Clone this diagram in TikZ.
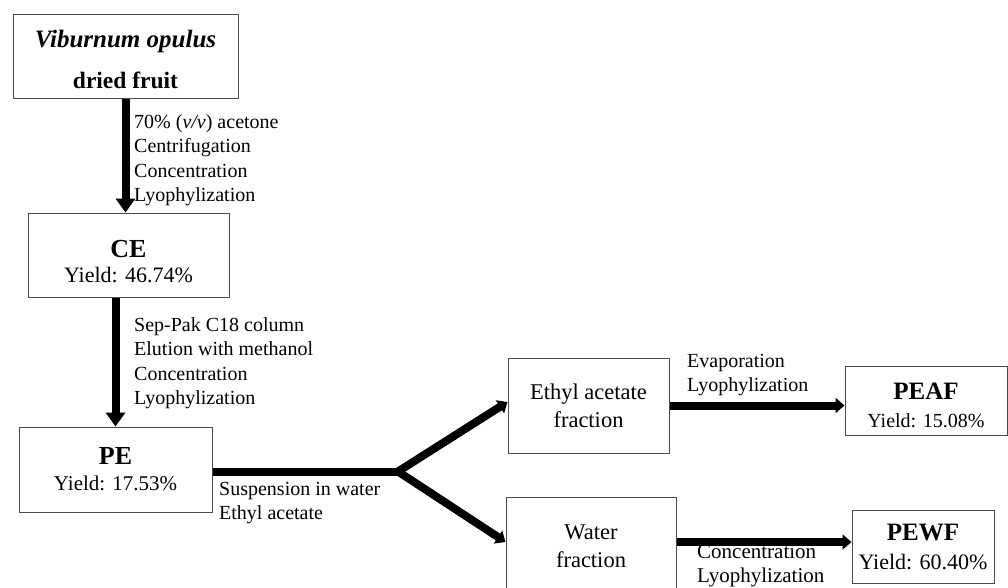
\documentclass[tikz,border=0pt]{standalone}
\usepackage{fontspec}
\setmainfont{Liberation Serif}
\usetikzlibrary{arrows.meta}
\begin{document}
\begin{tikzpicture}[x=1pt, y=-1pt, line join=miter,
	box/.style={draw=black!70, line width=1pt, align=center, inner sep=0pt, font=\fontsize{22.5}{28}\selectfont},
	note/.style={align=left, inner sep=0pt, font=\fontsize{20}{24.5}\selectfont},
	down/.style={line width=8pt, -{Triangle[width=19pt,length=14pt]}},
	flow/.style={line width=8pt, -{Triangle[width=15pt,length=9pt]}}]
	\useasboundingbox (0,0) rectangle (1008,588);
	% boxes
	\node[box, minimum width=225, minimum height=84, font=\bfseries\fontsize{25}{41}\selectfont] (fruit) at (125.5,57) {\rule{0pt}{22pt}\textit{Viburnum opulus}\\{\fontsize{23.5}{41}\selectfont dried fruit}};
	\node[box, minimum width=201, minimum height=84, font=\fontsize{22}{25}\selectfont] (CE) at (128.5,255) {{\bfseries\fontsize{26}{25}\selectfont\rule{0pt}{29.5pt}CE}\\Yield: 46.74\%};
	\node[box, minimum width=193, minimum height=85, font=\fontsize{21}{26}\selectfont] (PE) at (115.5,469.5) {{\bfseries\fontsize{26}{26}\selectfont PE}\\Yield: 17.53\%};
	\node[box, minimum width=161, minimum height=95] (EAF) at (588.5,405.5) {Ethyl acetate\\fraction};
	\node[box, minimum width=170, minimum height=98] (WF) at (591,546) {Water\\fraction};
	\node[box, minimum width=162, minimum height=69, font=\fontsize{20}{28}\selectfont] (PEAF) at (926,400.5) {{\bfseries\fontsize{25}{28}\selectfont\rule{0pt}{27pt}PEAF}\\Yield: 15.08\%};
	\node[box, minimum width=142, minimum height=73, font=\fontsize{22}{29}\selectfont] (PEWF) at (923,546.5) {{\bfseries\fontsize{25}{29}\selectfont PEWF}\\Yield: 60.40\%};
	% step labels
	\node[note, anchor=west] (s1) at (134,160) {70\% (\textit{v/v}) acetone\\Centrifugation\\Concentration\\Lyophylization};
	\node[note, anchor=west] (s2) at (134,363) {Sep-Pak C18 column\\Elution with methanol\\Concentration\\Lyophylization};
	\node[note, anchor=west] (s3) at (219,503) {Suspension in water\\Ethyl acetate};
	\node[note, anchor=west] (s4) at (687,375) {Evaporation\\Lyophylization};
	\node[note, anchor=west, font=\fontsize{21}{24.5}\selectfont] (s5) at (697,566) {Concentration\\Lyophylization};
	% arrows
	\draw[down] (fruit.south) -- (fruit.south |- CE.north);
	\draw[down] (CE.south -| PE.north) -- (PE.north);
	\coordinate (split) at (398,471.5);
	\draw[line width=8pt] (PE.east |- split) -- (split);
	\draw[flow] (split) -- ([yshift=3.5pt]EAF.west);
	\draw[flow] (split) -- ([yshift=4pt]WF.west);
	\draw[flow] (EAF.east) -- (EAF.east -| PEAF.west);
	\draw[flow] ([yshift=4pt]WF.east) -- ([yshift=4pt]WF.east -| PEWF.west);
\end{tikzpicture}
\end{document}
